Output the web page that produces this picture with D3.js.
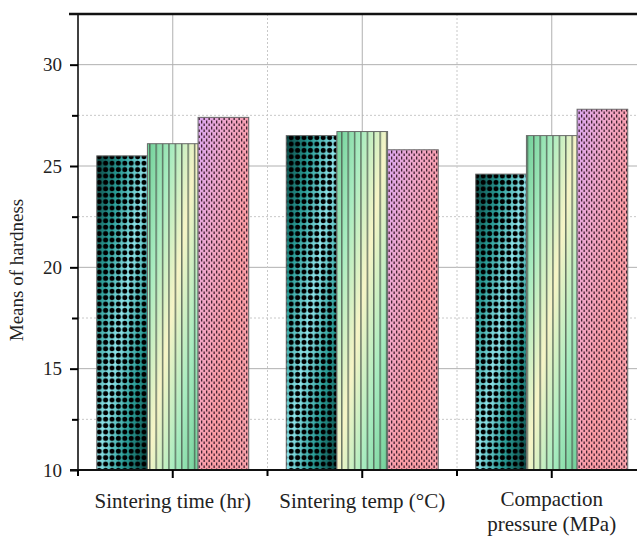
<!DOCTYPE html>
<html>
<head>
<meta charset="utf-8">
<script src="https://cdn.jsdelivr.net/npm/d3@7"></script>
<style>
  body { margin: 0; background: #ffffff; }
  svg { display: block; }
</style>
</head>
<body>
<div id="chart"></div>
<script>
const categories = ["Sintering time (hr)", "Sintering temp (°C)", "Compaction pressure (MPa)"];
const categoryLines = [["Sintering time (hr)"], ["Sintering temp (°C)"], ["Compaction", "pressure (MPa)"]];
const seriesNames = ["Level 1", "Level 2", "Level 3"];
const level1 = [25.5, 26.5, 24.6];
const level2 = [26.1, 26.7, 26.5];
const level3 = [27.4, 25.8, 27.8];
const yMajorTicks = [10, 15, 20, 25, 30];
const yMinorTicks = [12.5, 17.5, 22.5, 27.5];

const totalW = 637, totalH = 538;
const margin = {top: 14, left: 78, bottom: 68};
const bottomY = totalH - margin.bottom;
const step = 189.5;

const svg = d3.select("#chart")
  .append("svg")
  .attr("width", totalW)
  .attr("height", totalH);

const defs = svg.append("defs");

// gradients, diagonal
function grad(id, stops) {
  const g = defs.append("linearGradient")
    .attr("id", id)
    .attr("x1", 0).attr("y1", 0).attr("x2", 1).attr("y2", 1);
  stops.forEach(s => g.append("stop").attr("offset", s[0]).attr("stop-color", s[1]));
}
grad("g1", [[0, "#0a4541"], [0.25, "#2a9e98"], [0.5, "#8ee4ea"], [0.75, "#2a9e98"], [1, "#0a4541"]]);
grad("g2", [[0, "#6fcf98"], [0.25, "#a9ecc0"], [0.5, "#f7f4c6"], [0.75, "#a9ecc0"], [1, "#6fcf98"]]);
grad("g3", [[0, "#d9a6f0"], [0.3, "#f0a6c8"], [0.6, "#fb9ca4"], [1, "#f6a0a8"]]);

// dot pattern
const p1 = defs.append("pattern").attr("id", "p1")
  .attr("patternUnits", "userSpaceOnUse").attr("width", 6.4).attr("height", 6.4);
p1.append("circle").attr("cx", 3.2).attr("cy", 3.2).attr("r", 2.5).attr("fill", "#000");

// stripe pattern
const p2 = defs.append("pattern").attr("id", "p2")
  .attr("patternUnits", "userSpaceOnUse").attr("width", 6.4).attr("height", 10);
p2.append("rect").attr("x", 2).attr("y", 0).attr("width", 1.2).attr("height", 10).attr("fill", "#4d5a50");

// dash pattern
const p3 = defs.append("pattern").attr("id", "p3")
  .attr("patternUnits", "userSpaceOnUse").attr("width", 5).attr("height", 6);
p3.append("rect").attr("x", 1).attr("y", 0.5).attr("width", 1.3).attr("height", 3).attr("fill", "#3e2030");
p3.append("rect").attr("x", 3.5).attr("y", 3.5).attr("width", 1.3).attr("height", 3).attr("fill", "#3e2030");

const x0 = d3.scaleBand()
  .domain(categories)
  .range([margin.left, margin.left + step * categories.length])
  .paddingInner(0.198)
  .paddingOuter(0.099);

const x1 = d3.scaleBand()
  .domain(seriesNames)
  .range([0, x0.bandwidth()]);

const y = d3.scaleLinear()
  .domain([10, 32.5])
  .range([bottomY, margin.top]);

// grid
const grid = svg.append("g");
yMajorTicks.filter(t => t > 10).forEach(t => {
  grid.append("line").attr("x1", margin.left).attr("x2", totalW)
    .attr("y1", y(t)).attr("y2", y(t))
    .attr("stroke", "#b0b0b0").attr("stroke-width", 1);
});
yMinorTicks.forEach(t => {
  grid.append("line").attr("x1", margin.left).attr("x2", totalW)
    .attr("y1", y(t)).attr("y2", y(t))
    .attr("stroke", "#c8c8c8").attr("stroke-width", 1).attr("stroke-dasharray", "2,2");
});
categories.forEach((c, i) => {
  const cx = x0(c) + x0.bandwidth() / 2;
  grid.append("line").attr("x1", cx).attr("x2", cx)
    .attr("y1", margin.top).attr("y2", bottomY)
    .attr("stroke", "#b0b0b0").attr("stroke-width", 1);
  const bx = margin.left + step * (i + 1);
  grid.append("line").attr("x1", bx).attr("x2", bx)
    .attr("y1", margin.top).attr("y2", bottomY)
    .attr("stroke", "#c8c8c8").attr("stroke-width", 1).attr("stroke-dasharray", "2,2");
});

// bars
const seriesData = [level1, level2, level3];
const grads = ["g1", "g2", "g3"];
const pats = ["p1", "p2", "p3"];
seriesData.forEach((vals, s) => {
  const g = svg.append("g");
  vals.forEach((v, i) => {
    const bx = x0(categories[i]) + x1(seriesNames[s]);
    g.append("rect")
      .attr("x", bx).attr("y", y(v))
      .attr("width", x1.bandwidth()).attr("height", bottomY - y(v))
      .attr("fill", `url(#${grads[s]})`);
    g.append("rect")
      .attr("x", bx).attr("y", y(v))
      .attr("width", x1.bandwidth()).attr("height", bottomY - y(v))
      .attr("fill", `url(#${pats[s]})`)
      .attr("stroke", "#6a6a6a").attr("stroke-width", 1);
  });
});

// Y axis
const yAxis = svg.append("g")
  .attr("transform", `translate(${margin.left},0)`)
  .call(d3.axisLeft(y).tickValues(yMajorTicks).tickSize(8).tickPadding(8).tickFormat(d3.format("d")))
  .style("font-family", "'Liberation Serif', serif")
  .style("font-size", "19px")
  .style("color", "#000");
yAxis.select(".domain").remove();
yAxis.selectAll(".tick line").attr("stroke-width", 2);
yAxis.selectAll(".tick text").attr("fill", "#222");

svg.append("g")
  .attr("transform", `translate(${margin.left},0)`)
  .call(d3.axisLeft(y).tickValues(yMinorTicks).tickSize(6).tickFormat(""))
  .call(g => g.select(".domain").remove())
  .selectAll(".tick line").attr("stroke", "#000").attr("stroke-width", 2);

svg.append("line")
  .attr("x1", margin.left).attr("x2", margin.left)
  .attr("y1", margin.top).attr("y2", bottomY)
  .attr("stroke", "#000").attr("stroke-width", 1.5);

// top line
svg.append("line")
  .attr("x1", margin.left - 9).attr("x2", totalW)
  .attr("y1", margin.top).attr("y2", margin.top)
  .attr("stroke", "#111").attr("stroke-width", 2.5);

// X axis
svg.append("line")
  .attr("x1", margin.left - 8).attr("x2", totalW)
  .attr("y1", bottomY).attr("y2", bottomY)
  .attr("stroke", "#111").attr("stroke-width", 2);

const xAxis = svg.append("g")
  .attr("transform", `translate(0,${bottomY})`)
  .call(d3.axisBottom(x0).tickSize(8).tickFormat(""));
xAxis.select(".domain").remove();
xAxis.selectAll(".tick line").attr("stroke", "#000").attr("stroke-width", 2);

const boundaries = d3.range(categories.length + 1).map(i => margin.left + step * i);
svg.append("g").selectAll("line")
  .data(boundaries)
  .enter().append("line")
  .attr("x1", d => d).attr("x2", d => d)
  .attr("y1", bottomY).attr("y2", bottomY + 6)
  .attr("stroke", "#000").attr("stroke-width", 2);

// category labels
categories.forEach((c, i) => {
  const cx = x0(c) + x0.bandwidth() / 2;
  const lines = categoryLines[i];
  const t = svg.append("text")
    .attr("text-anchor", "middle")
    .style("font-family", "'Liberation Serif', serif")
    .style("font-size", "21px")
    .attr("fill", "#222");
  lines.forEach((l, k) => {
    t.append("tspan")
      .attr("x", cx)
      .attr("y", (lines.length === 1 ? 508 : 506) + k * 25)
      .text(l);
  });
});

// Y label
svg.append("text")
  .attr("transform", `translate(23,${(margin.top + bottomY) / 2 + 28}) rotate(-90)`)
  .attr("text-anchor", "middle")
  .style("font-family", "'Liberation Serif', serif")
  .style("font-size", "19px")
  .attr("fill", "#222")
  .text("Means of hardness");
</script>
</body>
</html>
